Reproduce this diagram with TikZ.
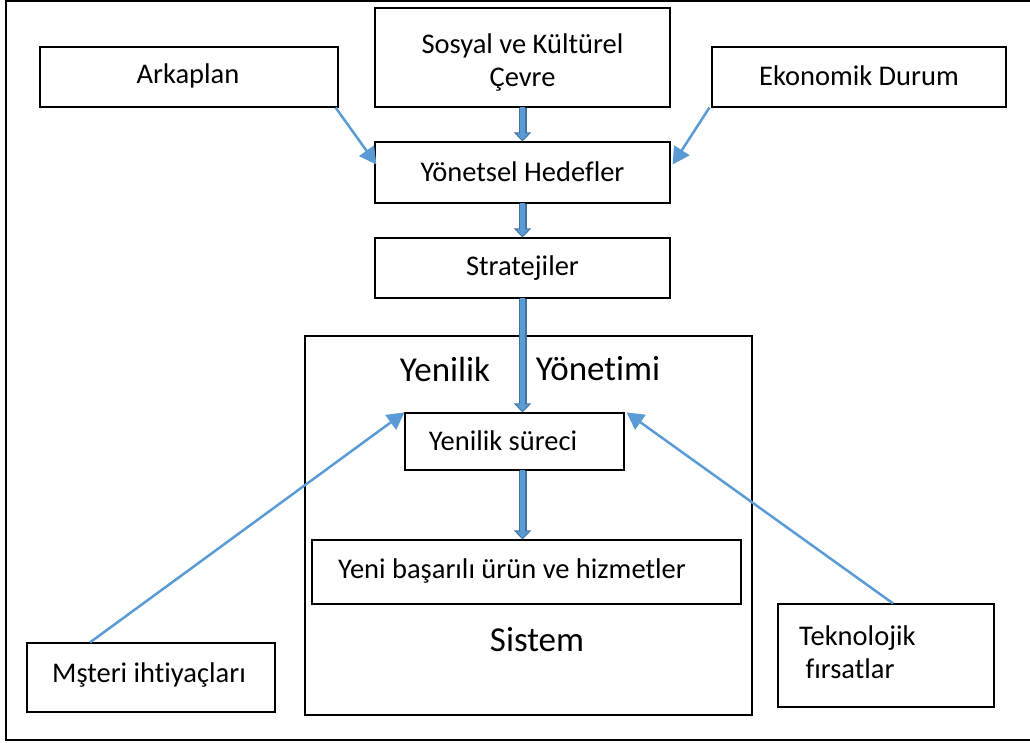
\documentclass[tikz,border=0pt]{standalone}
\usepackage{fontspec}
\setmainfont[Ligatures=NoCommon]{Carlito}
\usetikzlibrary{arrows.meta}
\definecolor{lblue}{HTML}{5B9BD5}
\definecolor{dblue}{HTML}{41719C}
\tikzset{
  box/.style={draw=black, line width=1.2pt, rectangle, inner sep=0pt},
  txt/.style={font=\fontsize{28.5}{33}\selectfont, inner sep=0pt},
  big/.style={font=\fontsize{35}{40}\selectfont, inner sep=0pt},
  thin/.style={draw=lblue, line width=2.5pt, -{Triangle[length=17pt,width=18pt]}},
  fatout/.style={draw=dblue, line width=8pt, -{Triangle[length=9pt,width=17pt]}},
  fatin/.style={draw=lblue, line width=5pt, shorten >=1.5pt, -{Triangle[length=6.5pt,width=12pt]}}
}
\begin{document}
\begin{tikzpicture}[x=1pt,y=-1pt]
\useasboundingbox (0,0) rectangle (1030,743);
% outer frame
\draw[line width=2pt] (1040,1) -- (6,1) -- (6,740) -- (1040,740);
% boxes
\node[box, minimum width=298pt, minimum height=60pt] (ark) at (189,77) {};
\node[txt] at (188,76) {Arkaplan};
\node[box, minimum width=295pt, minimum height=99pt] (sos) at (522.5,57.5) {};
\node[txt, align=center] at (522.5,63) {Sosyal ve Kültürel\\Çevre};
\node[box, minimum width=294pt, minimum height=60pt] (eko) at (859,77) {};
\node[txt] at (859,76) {Ekonomik Durum};
\node[box, minimum width=295pt, minimum height=61pt] (yon) at (522.5,172.5) {};
\node[txt] at (522.5,172) {Yönetsel Hedefler};
\node[box, minimum width=295pt, minimum height=60pt] (str) at (522.5,268) {};
\node[txt] at (522.5,268) {Stratejiler};
\node[box, minimum width=447pt, minimum height=379pt] (sys) at (528.5,525.5) {};
\node[big] at (445,369) {Yenilik};
\node[big] at (598,369) {Yönetimi};
\node[box, minimum width=219pt, minimum height=57pt] (sur) at (514.5,441.5) {};
\node[txt] at (503,441) {Yenilik süreci};
\node[box, minimum width=429pt, minimum height=64pt] (urun) at (526.5,572) {};
\node[txt] at (512,571) {Yeni başarılı ürün ve hizmetler};
\node[big] at (537,640) {Sistem};
\node[box, minimum width=248pt, minimum height=69pt] (mus) at (151,677.5) {};
\node[txt] at (149,675) {Mşteri ihtiyaçları};
\node[box, minimum width=216pt, minimum height=103pt] (tek) at (886,655.5) {};
\node[txt, align=left, anchor=west] at (799,652) {Teknolojik\\\ fırsatlar};
% thin arrows
\draw[thin] ([xshift=-3pt]ark.south east) -- ([xshift=2pt,yshift=8pt]yon.west);
\draw[thin] ([xshift=-2pt]eko.south west) -- ([xshift=2pt,yshift=8pt]yon.east);
\draw[thin] ([xshift=-61pt]mus.north) -- (sur.north west);
\draw[thin] ([xshift=7pt]tek.north) -- ([xshift=2pt]sur.north east);
% fat arrows (vertical at x of the upper column)
\foreach \a/\b in {sos/yon, yon/str, str/sur}{
  \draw[fatout] (\a.south) -- (\a.south |- \b.north);
  \draw[fatin] ([yshift=1pt]\a.south) -- (\a.south |- \b.north);
}
\draw[fatout] (str.south |- sur.south) -- (str.south |- urun.north);
\draw[fatin] ([yshift=1pt]str.south |- sur.south) -- (str.south |- urun.north);
\end{tikzpicture}
\end{document}
